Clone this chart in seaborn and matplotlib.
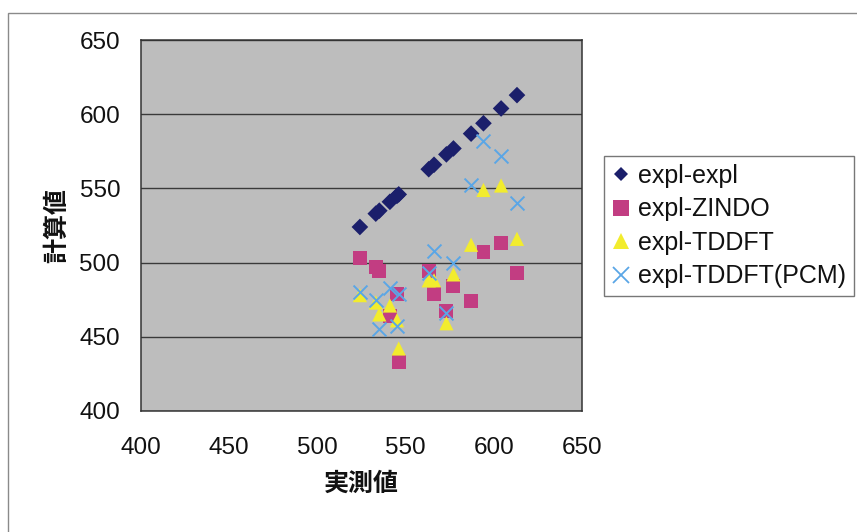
import matplotlib
matplotlib.use("Agg")
import matplotlib.pyplot as plt
import seaborn as sns
import pandas as pd
from matplotlib.patches import Rectangle
from matplotlib.lines import Line2D

# ---- data ----
measured = [524, 533, 535, 541, 545, 546, 563, 566, 573, 577, 587, 594, 604, 613]
expl_expl = [524, 533, 535, 541, 545, 546, 563, 566, 573, 577, 587, 594, 604, 613]
expl_zindo = [503, 497, 494, 464, 479, 433, 494, 479, 467, 484, 474, 507, 513, 493]
expl_tddft = [478, 473, 465, 471, 461, 442, 488, 488, 459, 492, 512, 549, 552, 516]
expl_pcm = [480, 475, 455, 483, 457, 479, 493, 508, 466, 500, 552, 582, 572, 540]

series_names = ["expl-expl", "expl-ZINDO", "expl-TDDFT", "expl-TDDFT(PCM)"]
x_ticks = [400, 450, 500, 550, 600, 650]
y_ticks = [400, 450, 500, 550, 600, 650]
x_label = "実測値"
y_label = "計算値"

series_values = [expl_expl, expl_zindo, expl_tddft, expl_pcm]
frames = [pd.DataFrame({"x": measured, "y": vals, "series": name})
          for name, vals in zip(series_names, series_values)]
df = pd.concat(frames, ignore_index=True)

# ---- styling ----
sns.set_style("white")
plt.rcParams['font.family'] = ['Liberation Sans', 'DejaVu Sans']

colors = {"expl-expl": "#1b1f6b", "expl-ZINDO": "#c23d82",
          "expl-TDDFT": "#f2ec2e", "expl-TDDFT(PCM)": "#5aa6e6"}
markers = {"expl-expl": "D", "expl-ZINDO": "s",
           "expl-TDDFT": "^", "expl-TDDFT(PCM)": "x"}
sizes = {"expl-expl": 72, "expl-ZINDO": 100, "expl-TDDFT": 105, "expl-TDDFT(PCM)": 100}

fig = plt.figure(figsize=(8.57, 5.32), dpi=100)
W, H = 857, 532
ax = fig.add_axes([141 / W, 1 - 410.7 / H, (582.3 - 141) / W, (410.7 - 40.3) / H])
ax.set_facecolor("#bdbdbd")

for i, name in enumerate(series_names):
    sub = df[df["series"] == name]
    kw = dict(color=colors[name], marker=markers[name], s=sizes[name], zorder=3 + i)
    if markers[name] == "x":
        kw["linewidth"] = 1.4
    else:
        kw["linewidth"] = 0
        kw["edgecolor"] = "none"
    sns.scatterplot(data=sub, x="x", y="y", ax=ax, legend=False, **kw)

ax.set_xlim(400, 650)
ax.set_ylim(400, 650)
ax.set_xticks(x_ticks)
ax.set_yticks(y_ticks)
ax.yaxis.grid(True, color="#3a3a3a", linewidth=1.0)
ax.xaxis.grid(False)
ax.set_axisbelow(True)
for sp in ax.spines.values():
    sp.set_visible(True)
    sp.set_color("#333333")
    sp.set_linewidth(1.1)

ax.tick_params(axis="x", direction="in", length=6, width=1, color="#333333",
               labelsize=17.5, pad=19, labelcolor="#111111")
ax.tick_params(axis="y", direction="in", length=0, labelsize=17.5, pad=15,
               labelcolor="#111111")

cjk = ['Noto Sans CJK JP', 'DejaVu Sans']
ax.set_xlabel(x_label, family=cjk, fontsize=18, fontweight="bold", labelpad=9,
              color="#111111")
ax.set_ylabel(y_label, family=cjk, fontsize=18, fontweight="bold", labelpad=7,
              color="#111111")

# legend
handles = []
for name in series_names:
    if markers[name] == "x":
        h = Line2D([], [], linestyle="none", marker="x", color=colors[name],
                   markersize=11, markeredgewidth=1.3)
    else:
        ms = {"D": 7.5, "s": 11, "^": 12}[markers[name]]
        h = Line2D([], [], linestyle="none", marker=markers[name], color=colors[name],
                   markersize=ms, markeredgewidth=0)
    handles.append(h)

leg = fig.legend(handles, series_names, loc="upper left",
                 bbox_to_anchor=(604 / W, 1 - 156 / H), bbox_transform=fig.transFigure,
                 frameon=True, fancybox=False, fontsize=18, labelspacing=0.38,
                 handlelength=0.7, handletextpad=0.35, borderpad=0.32,
                 borderaxespad=0, edgecolor="#555555")
leg.get_frame().set_linewidth(1.0)
for t in leg.get_texts():
    t.set_color("#111111")

# outer chart border
fig.patches.append(Rectangle((8 / W, -0.05), 1.2, 1 - 13 / H + 0.05,
                             transform=fig.transFigure, fill=False,
                             edgecolor="#8a8a8a", linewidth=1.0))

fig.savefig("out.png", dpi=100, facecolor="white")
